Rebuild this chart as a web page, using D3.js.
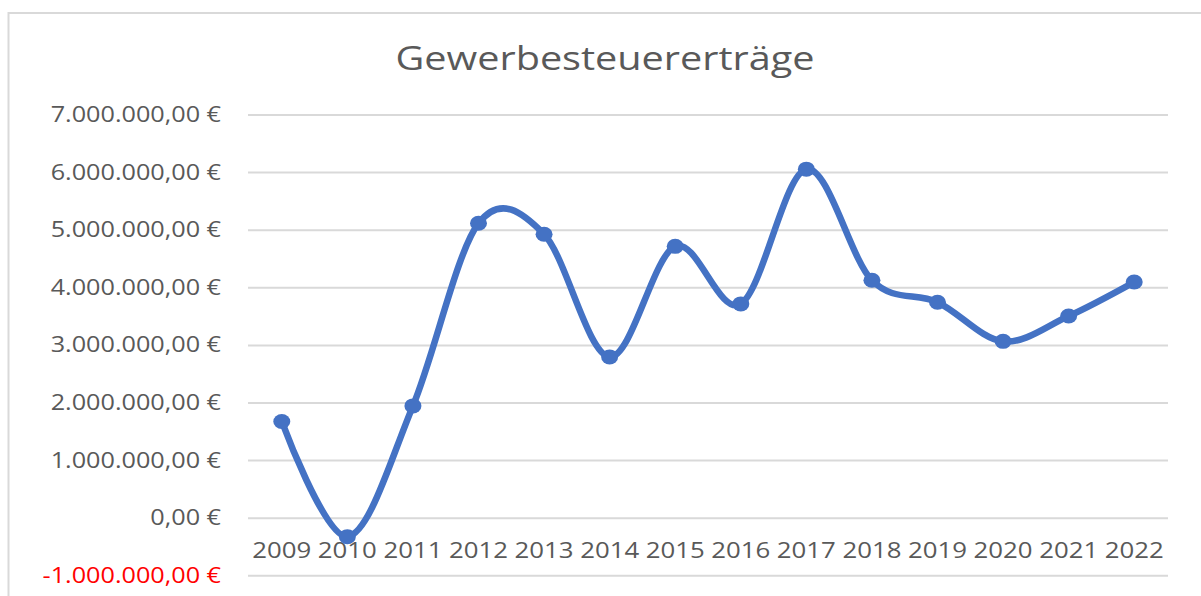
<!DOCTYPE html>
<html>
<head>
<meta charset="utf-8">
<script src="https://cdn.jsdelivr.net/npm/d3@7"></script>
<style>
  html, body { margin: 0; padding: 0; background: #fff; }
  #main { width: 1201px; height: 596px; position: relative; overflow: hidden; }
  text { font-family: 'Open Sans', 'Noto Sans', sans-serif; }
</style>
</head>
<body>
<div id="main"></div>
<script>
const years = ['2009', '2010', '2011', '2012', '2013', '2014', '2015', '2016', '2017', '2018', '2019', '2020', '2021', '2022'];
const ertraege = [1680000, -320000, 1950000, 5120000, 4930000, 2800000, 4720000, 3720000, 6060000, 4130000, 3750000, 3070000, 3510000, 4100000];
const yTicks = [-1000000, 0, 1000000, 2000000, 3000000, 4000000, 5000000, 6000000, 7000000];
const title = 'Gewerbesteuererträge';

const width = 1201;
const height = 596;
const sx = 1.2; // the screenshot is stretched sideways a bit

const svg = d3.select('#main')
  .append('svg')
  .attr('width', width)
  .attr('height', height);

// chart border
svg.append('rect')
  .attr('x', 8.5)
  .attr('y', 13)
  .attr('width', 1200)
  .attr('height', 600)
  .attr('fill', 'none')
  .attr('stroke', '#d9d9d9')
  .attr('stroke-width', 2);

const x = d3.scaleBand().domain(years).range([249, 1167]);
const y = d3.scaleLinear().domain([-1000000, 7000000]).range([575.8, 115]);

const fmt = d3.formatLocale({
  decimal: ',', thousands: '.', grouping: [3], currency: ['', ' €'], minus: '-',
}).format(',.2f');

// gridlines
svg.append('g')
  .selectAll('line')
  .data(yTicks)
  .join('line')
  .attr('x1', 248)
  .attr('x2', 1168)
  .attr('y1', (d) => y(d))
  .attr('y2', (d) => y(d))
  .attr('stroke', '#d9d9d9')
  .attr('stroke-width', 2);

// y labels
svg.append('g')
  .selectAll('text')
  .data(yTicks)
  .join('text')
  .attr('transform', (d) => `translate(221,${y(d) + 7}) scale(${sx},1)`)
  .attr('text-anchor', 'end')
  .style('font-size', '21px')
  .style('fill', (d) => (d < 0 ? '#ff0000' : '#595959'))
  .text((d) => `${fmt(d)} €`);

// year labels
svg.append('g')
  .selectAll('text')
  .data(years)
  .join('text')
  .attr('transform', (d) => `translate(${x(d) + x.bandwidth() / 2},558) scale(${sx},1)`)
  .attr('text-anchor', 'middle')
  .style('font-size', '21.5px')
  .style('fill', '#595959')
  .text((d) => d);

// title
svg.append('text')
  .attr('transform', `translate(605,70) scale(${sx},1)`)
  .attr('text-anchor', 'middle')
  .style('font-size', '33px')
  .style('fill', '#595959')
  .text(title);

const pts = years.map((d, i) => ({ year: d, v: ertraege[i] }));

const line = d3.line()
  .x((d) => x(d.year) + x.bandwidth() / 2)
  .y((d) => y(d.v))
  .curve(d3.curveCatmullRom.alpha(0));

svg.append('path')
  .datum(pts)
  .attr('d', line)
  .attr('fill', 'none')
  .attr('stroke', '#4472c4')
  .attr('stroke-width', 6.5)
  .attr('stroke-linejoin', 'round');

svg.append('g')
  .selectAll('ellipse')
  .data(pts)
  .join('ellipse')
  .attr('cx', (d) => x(d.year) + x.bandwidth() / 2)
  .attr('cy', (d) => y(d.v))
  .attr('rx', 8.5)
  .attr('ry', 7.5)
  .attr('fill', '#4472c4');
</script>
</body>
</html>
